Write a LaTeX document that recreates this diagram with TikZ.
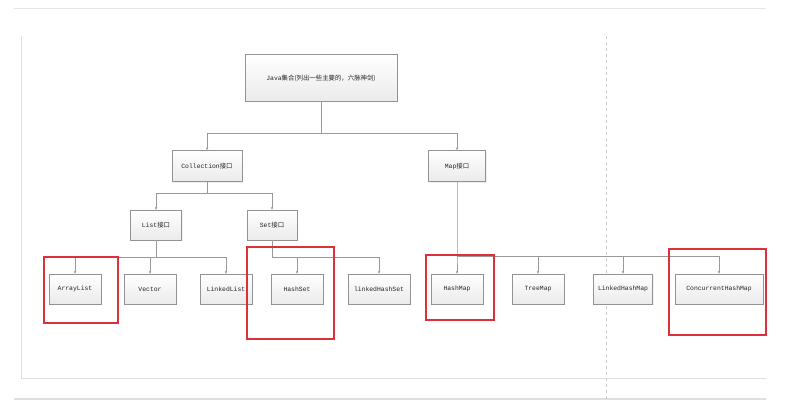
\documentclass[tikz,border=0pt]{standalone}
\usepackage{fontspec}
\usepackage{tikz}
\usetikzlibrary{arrows.meta,shadows}
\setmainfont{Liberation Mono}
\newfontfamily\cjk{Noto Sans CJK SC}
\definecolor{markred}{RGB}{222,48,56}

\tikzset{
  box/.style={draw=gray!85, shading=axis, top color=white, bottom color=gray!16,
    drop shadow={shadow xshift=1pt, shadow yshift=-1pt, fill=gray!25},
    minimum height=30pt, minimum width=52pt, inner sep=1pt,
    font=\fontsize{6.4}{7}\selectfont, text=black!85},
  link/.style={draw=gray!80, line width=0.6pt, -{Stealth[length=3pt,width=2.5pt]}},
  mark box/.style={draw=markred, line width=1.2pt}
}

\begin{document}
\begin{tikzpicture}[x=1pt, y=-1pt]
\useasboundingbox (0,0) rectangle (786,409);

% page frame
\draw[gray!20, line width=0.8pt] (14,8) -- (766,8);
\draw[gray!25, line width=0.6pt] (21,36) -- (21,378) -- (766,378);
\draw[gray!25, line width=2pt] (14,399) -- (766,399);
\draw[gray!40, dashed, line width=0.5pt] (606,36) -- (606,402);

% top
\node[box, minimum width=152pt, minimum height=47pt] (title) at (321,78)
  {Java{\cjk 集合(列出一些主要的，六脉神剑)}};

% interfaces
\node[box, minimum width=70pt, minimum height=31pt] (coll) at (207,166) {Collection{\cjk 接口}};
\node[box, minimum width=57pt, minimum height=31pt] (map) at (457,166) {Map{\cjk 接口}};
\node[box, minimum width=51pt] (list) at (156,225) {List{\cjk 接口}};
\node[box, minimum width=50pt] (set) at (272,225) {Set{\cjk 接口}};

% classes
\node[box] (arraylist) at (75,289) {ArrayList};
\node[box] (vector) at (150,289) {Vector};
\node[box] (linkedlist) at (226,289) {LinkedList};
\node[box] (hashset) at (297,289) {HashSet};
\node[box, minimum width=62pt] (lhset) at (379,289) {linkedHashSet};
\node[box] (hashmap) at (457,289) {HashMap};
\node[box] (treemap) at (538,289) {TreeMap};
\node[box, minimum width=59pt] (lhmap) at (623,289) {LinkedHashMap};
\node[box, minimum width=88pt] (chmap) at (719,289) {ConcurrentHashMap};

% connectors
\coordinate (j1) at (321,133);
\draw[link] (title.south) -- (j1) -| (coll.north);
\draw[link] (j1) -| (map.north);

\coordinate (j2) at (207,193);
\draw[link] (coll.south) -- (j2) -| (list.north);
\draw[link] (j2) -| (set.north);

\coordinate (j3) at (156,257);
\draw[link] (list.south) -- (j3) -| (arraylist.north);
\draw[link] (j3) -| (vector.north);
\draw[link] (j3) -| (linkedlist.north);

\coordinate (j4) at (272,257);
\draw[link] (set.south) -- (j4) -| (hashset.north);
\draw[link] (j4) -| (lhset.north);

\coordinate (j5) at (457,256);
\draw[link] (map.south) -- (j5) -- (hashmap.north);
\draw[link] (j5) -| (treemap.north);
\draw[link] (j5) -| (lhmap.north);
\draw[link] (j5) -| (chmap.north);

% highlights
\draw[mark box] (44,257) rectangle (118,323);
\draw[mark box] (247,247) rectangle (334,339);
\draw[mark box] (426,255) rectangle (494,320);
\draw[mark box] (669,249) rectangle (766,335);
\end{tikzpicture}
\end{document}
